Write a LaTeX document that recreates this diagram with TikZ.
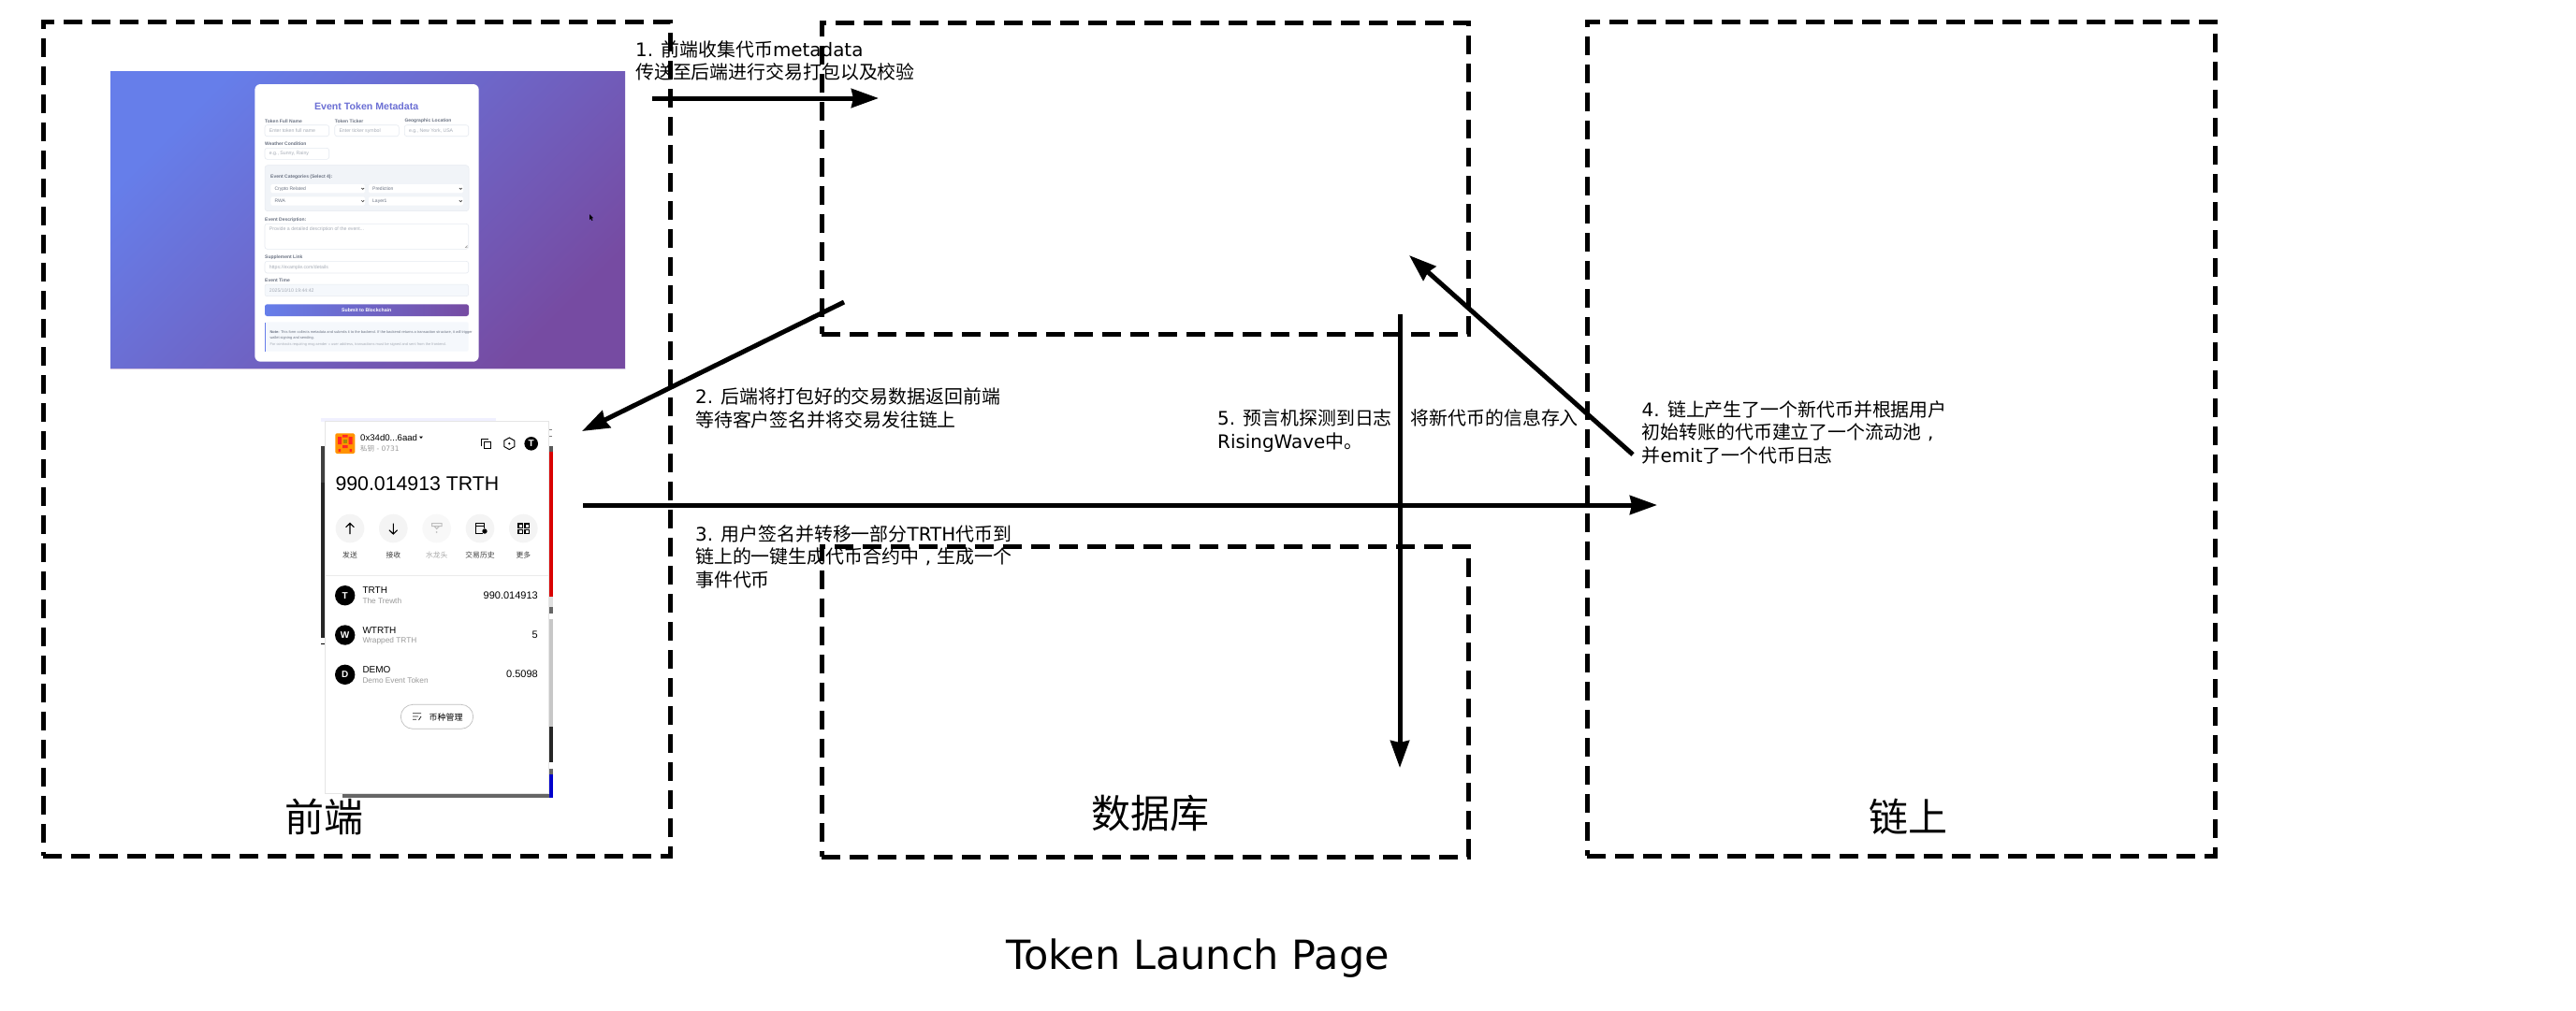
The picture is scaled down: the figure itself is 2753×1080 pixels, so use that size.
\documentclass[tikz,border=0pt]{standalone}
\usepackage{fontspec}
\setmainfont{DejaVu Sans}
\newfontfamily\cjk{Noto Sans CJK SC}
\newfontfamily\ui{Liberation Sans}
\usetikzlibrary{arrows.meta}
\newcommand{\zh}[1]{{\cjk #1}}
\newcommand{\zcomma}{\makebox[19.9pt][c]{,}}
\newcommand{\fs}[1]{\fontsize{#1}{#1}\selectfont}
\definecolor{gA}{HTML}{667EEA}
\definecolor{gB}{HTML}{764BA2}
\definecolor{inkA}{HTML}{6A7282}
\definecolor{phA}{HTML}{A6ACB6}
\definecolor{lineA}{HTML}{E6EAF0}
\definecolor{panA}{HTML}{F1F4F8}
\definecolor{panB}{HTML}{F5F8FC}
\definecolor{subA}{HTML}{9A9A9A}
\definecolor{circA}{HTML}{F4F4F4}
\tikzset{
  dbox/.style={draw=black,line width=5pt,dash pattern=on 20pt off 10pt,anchor=north west,inner sep=0pt,outer sep=0pt,fill=none},
  flow/.style={draw=black,line width=5pt,-{Stealth[length=29pt,width=20pt,inset=2pt]}},
  note/.style={anchor=west,inner sep=0pt,align=left,font=\fontsize{19.9}{24.5}\selectfont},
  head/.style={inner sep=0pt,font=\cjk\fs{42}},
  lab/.style={anchor=west,inner sep=0pt,text=inkA,font=\ui\bfseries\fs{5}},
  hold/.style={anchor=west,inner sep=0pt,text=phA,font=\ui\fs{5.2}},
  sel/.style={anchor=west,inner sep=0pt,text=inkA,font=\ui\fs{5}},
  field/.style={fill=white,draw=lineA,line width=.6pt,rounded corners=2.5pt},
  wtxt/.style={anchor=west,inner sep=0pt,font=\ui\fs{10}},
  wsub/.style={anchor=west,inner sep=0pt,text=subA,font=\ui\fs{8.3}},
  wact/.style={inner sep=0pt,font=\cjk\fs{7.8},text=black!75},
  wico/.style={draw=black,line width=1pt},
  wbadge/.style={inner sep=0pt,text=white,font=\ui\bfseries\fs{10}},
}
\begin{document}
\begin{tikzpicture}[x=1pt,y=-1pt]
\useasboundingbox (0,0) rectangle (2753,1080);
\fill[white] (0,0) rectangle (2753,1080);

% --- form screenshot ---
\shade[left color=gA,right color=gB,shading angle=45] (118,76) rectangle (668,394);
\fill[gB!35] (118,393.6) rectangle (668,394.6);
\fill[black] (630,229) -- (630,235) -- (631.4,233.8) -- (632.6,236) -- (633.4,235.5) -- (632.3,233.4) -- (634,233.2) -- cycle;
\fill[white,rounded corners=6pt] (272.3,90) rectangle (511.7,386.7);
\node[inner sep=0pt,text=gA!70!gB,font=\ui\bfseries\fs{10.6}] (ftitle) at (391.7,114) {Event Token Metadata};
\node[lab] (fl1) at (283,129.3) {Token Full Name};
\node[lab] (fl2) at (357.7,129.3) {Token Ticker};
\node[lab] (fl3) at (432.3,129.3) {Geographic Location};
\draw[field] (283,133.7) rectangle (351.7,145.7);
\draw[field] (357.7,133.7) rectangle (426.3,145.7);
\draw[field] (432.3,133.7) rectangle (500.7,145.7);
\node[hold] (fp1) at (287.7,139.7) {Enter token full name};
\node[hold] (fp2) at (362.3,139.7) {Enter ticker symbol};
\node[hold] (fp3) at (436.8,139.7) {e.g., New York, USA};
\node[lab] (fl4) at (283,153.3) {Weather Condition};
\draw[field] (283,158.3) rectangle (351.7,170.3);
\node[hold] (fp4) at (287.7,164.3) {e.g., Sunny, Rainy};
\draw[fill=panA,draw=lineA,line width=.5pt,rounded corners=3pt] (283,176.7) rectangle (501,225.7);
\node[lab] (fl5) at (289,189.3) {Event Categories (Select 4):};
\fill[white,rounded corners=1.5pt] (289.3,197) rectangle (390,206.3);
\fill[white,rounded corners=1.5pt] (394,197) rectangle (495,206.3);
\fill[white,rounded corners=1.5pt] (289.3,210.3) rectangle (390,219.7);
\fill[white,rounded corners=1.5pt] (394,210.3) rectangle (495,219.7);
\node[sel] (fs1) at (293.3,201.7) {Crypto Related};
\node[sel] (fs2) at (398,201.7) {Prediction};
\node[sel] (fs3) at (293.3,214.8) {RWA};
\node[sel] (fs4) at (398,214.8) {Layer1};
\foreach \px/\py in {387.7/201.7,492.3/201.7,387.7/215,492.3/215}
  \draw[black!75,line width=.7pt] (\px-1.4,\py-.7) -- (\px,\py+.7) -- (\px+1.4,\py-.7);
\node[lab] (fl6) at (283,234.7) {Event Description:};
\draw[field] (283,239.3) rectangle (500.7,266.3);
\node[hold] (fp6) at (287.7,245) {Provide a detailed description of the event...};
\draw[black!40,line width=.4pt] (497,265) -- (499.6,262.4) (498.5,265) -- (499.6,263.9);
\node[lab] (fl7) at (283,275.3) {Supplement Link};
\draw[field] (283,279.3) rectangle (500.7,292);
\node[hold] (fp7) at (287.7,286) {https://example.com/details};
\node[lab] (fl8) at (283,300) {Event Time};
\draw[fill=panB,draw=lineA,line width=.5pt,rounded corners=2.5pt] (283,304) rectangle (500.7,316.7);
\node[hold] (fp8) at (287.7,310.3) {2025/10/10 19:44:42};
\shade[left color=gA,right color=gB,rounded corners=2.5pt] (283,325.3) rectangle (501,338);
\node[inner sep=0pt,text=white,font=\ui\bfseries\fs{5.2}] (fbtn) at (391.7,331.7) {Submit to Blockchain};
\fill[panB,rounded corners=2pt] (283,344.3) rectangle (500.7,375.7);
\fill[gA] (283,344.5) rectangle (284,375.5);
\node[anchor=west,inner sep=0pt,text=inkA,font=\ui\fs{3.95}] (fn1) at (288.3,355) {\textbf{Note:} This form collects metadata and submits it to the backend. If the backend returns a transaction structure, it will trigger};
\node[anchor=west,inner sep=0pt,text=inkA,font=\ui\fs{3.95}] (fn2) at (288.3,361) {wallet signing and sending.};
\node[anchor=west,inner sep=0pt,text=phA,font=\ui\fs{3.95}] (fn3) at (288.3,368.7) {For contracts requiring msg.sender = user address, transactions must be signed and sent from the frontend.};

% --- wallet screenshot ---
\fill[blue!6] (343.3,447) rectangle (530,451);
\fill[black!75] (343.3,476.7) rectangle (348,516);
\fill[black!85] (343.3,516) rectangle (348,681.7);
\fill[black] (343.3,687.5) rectangle (348,689);
\fill[black!65] (585,476.7) rectangle (590.7,483.3);
\fill[red!85!black] (585,483.3) rectangle (590.7,638.3);
\fill[black!12] (585,638.3) rectangle (590.7,649);
\fill[black!60] (585,649) rectangle (590.7,656);
\fill[black!22] (585,661.7) rectangle (590.7,776.7);
\fill[black!85] (585,776.7) rectangle (590.7,815);
\fill[black!60] (585,821.7) rectangle (590.7,828);
\fill[blue!80!black] (585,828) rectangle (590.7,853);
\fill[black!60] (366,847) rectangle (587,853.3);
\draw[black!50,line width=.8pt] (586.5,459.5) -- (590,459.5) (586.5,466) -- (590,466);
\draw[fill=white,draw=black!10,line width=.6pt] (347.3,450) rectangle (586,848.3);
% avatar
\fill[orange!85!yellow,rounded corners=1.5pt] (358.3,463.3) rectangle (379.3,485);
\fill[red!80!pink] (361,467) rectangle (365,475) (372.5,467) rectangle (376.5,475) (366,465) rectangle (371.5,467.5) (366,476) rectangle (371.5,479) (361.5,480) rectangle (364,483) (373.5,480) rectangle (376,483);
\fill[olive!80!orange] (367,469.5) rectangle (370.5,473.5);
\node[anchor=west,inner sep=0pt,font=\ui\fs{9.6}] (waddr) at (385,468.3) {0x34d0...6aad};
\fill[black] (448,466.5) -- (452,466.5) -- (450,469) -- cycle;
\node[anchor=west,inner sep=0pt,text=subA,font=\fs{7.5}] (wkey) at (385,480) {\zh{私钥} - 0731};
\draw[wico] (514.3,477.3) -- (514.3,469.3) -- (522,469.3);
\draw[wico] (517.3,472.3) rectangle (524.7,479.7);
\draw[wico] (544.3,468) -- (549.8,471.1) -- (549.8,477.5) -- (544.3,480.6) -- (538.8,477.5) -- (538.8,471.1) -- cycle;
\fill[black] (544.3,474.3) circle (1.2);
\fill[black] (567.7,474.3) circle (7.3);
\node[wbadge] (wt) at (567.7,474.3) {T};
\node[anchor=west,inner sep=0pt,font=\ui\fs{21.3}] (wbal) at (358.3,517.3) {990.014913 TRTH};
\foreach \cx in {374,420.3,513,559.3} \fill[circA] (\cx,565) circle (15.3);
\fill[circA!60!white] (466.7,565) circle (15.3);
\draw[wico,line width=1.1pt] (374,571) -- (374,559.5) (369.6,563.8) -- (374,559.5) -- (378.4,563.8);
\draw[wico,line width=1.1pt] (420.3,559.5) -- (420.3,571) (415.9,566.7) -- (420.3,571) -- (424.7,566.7);
\draw[black!25,line width=1pt] (461.5,559.5) rectangle (472,562.5) (464,562.5) -- (466.7,565.5) -- (469.5,562.5);
\fill[black!25] (466.7,569) circle (1);
\draw[wico] (515.5,570) -- (508.5,570) -- (508.5,559.5) -- (517.5,559.5) -- (517.5,565) (508.5,562.5) -- (517.5,562.5);
\fill[black] (518,568) circle (2.7);
\foreach \gx/\gy in {554/560,561/560,554/566.5,561/566.5} \draw[wico,line width=1.1pt] (\gx,\gy) rectangle (\gx+4.2,\gy+4.2);
\node[wact] (wa1) at (374,594) {发送};
\node[wact] (wa2) at (420.3,594) {接收};
\node[wact,text=black!35] (wa3) at (466.7,594) {水龙头};
\node[wact] (wa4) at (513,594) {交易历史};
\node[wact] (wa5) at (559.3,594) {更多};
\draw[black!8,line width=.6pt] (347.3,615.3) -- (586,615.3);
\foreach \cy in {636.7,679,721.3} \fill[black] (368.7,\cy) circle (10.7);
\node[wbadge] (wb1) at (368.7,636.7) {T};
\node[wbadge] (wb2) at (368.7,679) {W};
\node[wbadge] (wb3) at (368.7,721.3) {D};
\node[wtxt] (wn1) at (387.3,631.3) {TRTH};
\node[wtxt] (wn2) at (387.3,673.7) {WTRTH};
\node[wtxt] (wn3) at (387.3,716) {DEMO};
\node[wsub] (ws1) at (387.3,643) {The Trewth};
\node[wsub] (ws2) at (387.3,685.3) {Wrapped TRTH};
\node[wsub] (ws3) at (387.3,728) {Demo Event Token};
\node[wtxt,anchor=east,font=\ui\fs{11}] (wv1) at (575,636.7) {990.014913};
\node[wtxt,anchor=east,font=\ui\fs{11}] (wv2) at (575,678.7) {5};
\node[wtxt,anchor=east,font=\ui\fs{11}] (wv3) at (575,721) {0.5098};
\draw[black!25,line width=.7pt,rounded corners=13pt,fill=white] (428.3,753.3) rectangle (505.7,779.3);
\draw[black!85,line width=.8pt] (441,762.7) -- (450,762.7) (441,766) -- (447,766) (441,769.3) -- (445,769.3) (450,766) -- (447.5,770);
\node[anchor=west,inner sep=0pt,font=\cjk\fs{9}] (wmg) at (458.3,766.7) {币种管理};

% --- step notes (under the lines, as in the reference) ---
\node[note] (n1) at (679,65) {1. \zh{前端收集代币}metadata\\\zh{传送至后端进行交易打包以及校验}};
\node[note] (n2) at (743,436.5) {2. \zh{后端将打包好的交易数据返回前端}\\\zh{等待客户签名并将交易发往链上}};
\node[note] (n3) at (743,595) {3. \zh{用户签名并转移一部分}TRTH\zh{代币到}\\\zh{链上的一键生成代币合约中}\zcomma\zh{生成一个}\\\zh{事件代币}};
\node[note] (n4) at (1754.5,462) {4. \zh{链上产生了一个新代币并根据用户}\\\zh{初始转账的代币建立了一个流动池}\zcomma\\\zh{并}emit\zh{了一个代币日志}};
\node[note] (n5) at (1301,460.5) {5. \zh{预言机探测到日志}\zcomma\zh{将新代币的信息存入}\\RisingWave\zh{中。}};

% --- zones ---
\node[dbox,minimum width=670pt,minimum height=892pt] (front) at (46,23) {};
\node[dbox,minimum width=691pt,minimum height=333pt] (backend) at (878,24) {};
\node[dbox,minimum width=691pt,minimum height=332pt] (store) at (878,584) {};
\node[dbox,minimum width=671pt,minimum height=892pt] (chain) at (1696,23) {};
\node[head] (lfront) at (346,873) {前端};
\node[head] (lstore) at (1229,870) {数据库};
\node[head] (lchain) at (2039,873) {链上};
\node[inner sep=0pt,font=\fs{43}] (title) at (1280,1025) {Token Launch Page};

% --- connectors ---
\coordinate (a1s) at (697,105);  \coordinate (a1e) at (939,105);
\coordinate (a2s) at (902,323);  \coordinate (a2e) at (622,461);
\coordinate (a3s) at (623,540);  \coordinate (a3e) at (1771,540);
\coordinate (a4s) at (1745,486); \coordinate (a4e) at (1506,273);
\coordinate (a5s) at (1496,336); \coordinate (a5e) at (1496,821);
\draw[flow] (a1s) -- (a1e);
\draw[flow] (a2s) -- (a2e);
\draw[flow] (a3s) -- (a3e);
\draw[flow] (a4s) -- (a4e);
\draw[flow] (a5s) -- (a5e);
\end{tikzpicture}
\end{document}
